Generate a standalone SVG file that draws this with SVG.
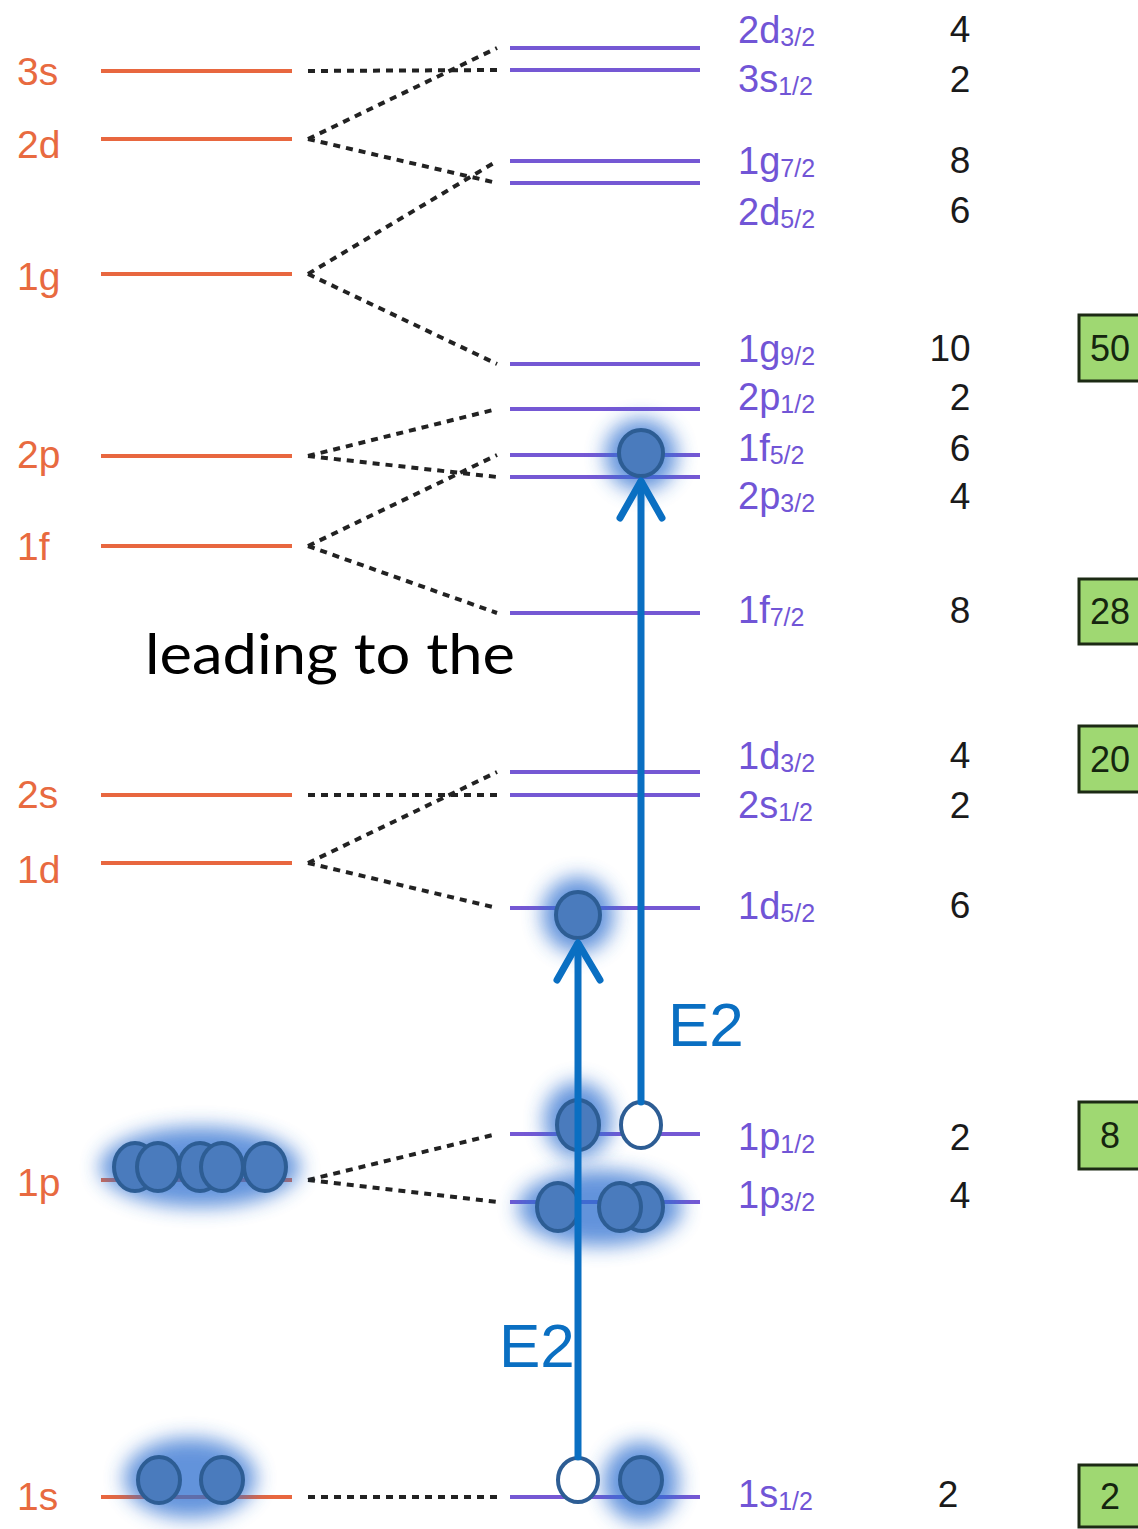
<svg xmlns="http://www.w3.org/2000/svg" width="1138" height="1529" viewBox="0 0 1138 1529">
<defs>
<style>
.ol{stroke:#e8673f;stroke-width:4;fill:none}
.pl{stroke:#7558d4;stroke-width:4;fill:none}
.ot{font-family:"Liberation Sans",Arial,sans-serif;font-size:39px;fill:#e86a40}
.pt{font-family:"Liberation Sans",Arial,sans-serif;font-size:38px;fill:#7155d6}
.sub{font-size:25px}
.nt{font-family:"Liberation Sans",Arial,sans-serif;font-size:37px;fill:#1a1a1a;text-anchor:middle}
.dot{stroke:#222;stroke-width:4;stroke-dasharray:7 6;fill:none}
.arr{stroke:#0a6fc2;stroke-width:7;fill:none;stroke-linecap:round;stroke-linejoin:round}
.e2{font-family:"Liberation Sans",Arial,sans-serif;font-size:62px;fill:#0a6fc2}
.nuc{fill:#4a7bbd;stroke:#2d5d94;stroke-width:4}
.hol{fill:#ffffff;stroke:#2d5d94;stroke-width:4}
.glow{fill:#2f6fd0;opacity:0.75;filter:url(#blur)}
.box{fill:#9fd872;stroke:#1c2a14;stroke-width:3}
.bt{font-family:"Liberation Sans",Arial,sans-serif;font-size:36px;fill:#15250f;text-anchor:middle}
</style>
<filter id="blur" x="-60%" y="-60%" width="220%" height="220%"><feGaussianBlur stdDeviation="10"/></filter>
</defs>

<g id="oscillator-levels">
<g id="o-3s"><text class="ot" x="17" y="85">3s</text><line class="ol" x1="101" y1="71" x2="292" y2="71"/></g>
<g id="o-2d"><text class="ot" x="17" y="158">2d</text><line class="ol" x1="101" y1="139" x2="292" y2="139"/></g>
<g id="o-1g"><text class="ot" x="17" y="290">1g</text><line class="ol" x1="101" y1="274" x2="292" y2="274"/></g>
<g id="o-2p"><text class="ot" x="17" y="468">2p</text><line class="ol" x1="101" y1="456" x2="292" y2="456"/></g>
<g id="o-1f"><text class="ot" x="17" y="560">1f</text><line class="ol" x1="101" y1="546" x2="292" y2="546"/></g>
<g id="o-2s"><text class="ot" x="17" y="808">2s</text><line class="ol" x1="101" y1="795" x2="292" y2="795"/></g>
<g id="o-1d"><text class="ot" x="17" y="883">1d</text><line class="ol" x1="101" y1="863" x2="292" y2="863"/></g>
<g id="o-1p"><text class="ot" x="17" y="1196">1p</text><line class="ol" x1="101" y1="1180" x2="292" y2="1180"/></g>
<g id="o-1s"><text class="ot" x="17" y="1510">1s</text><line class="ol" x1="101" y1="1497" x2="292" y2="1497"/></g>
</g>

<g id="connectors">
<line class="dot" x1="308" y1="71" x2="497" y2="70"/>
<line class="dot" x1="308" y1="139" x2="497" y2="48"/>
<line class="dot" x1="308" y1="139" x2="497" y2="183"/>
<line class="dot" x1="308" y1="274" x2="497" y2="161"/>
<line class="dot" x1="308" y1="274" x2="497" y2="364"/>
<line class="dot" x1="308" y1="456" x2="497" y2="409"/>
<line class="dot" x1="308" y1="456" x2="497" y2="477"/>
<line class="dot" x1="308" y1="546" x2="497" y2="455"/>
<line class="dot" x1="308" y1="546" x2="497" y2="613"/>
<line class="dot" x1="308" y1="795" x2="497" y2="795"/>
<line class="dot" x1="308" y1="863" x2="497" y2="772"/>
<line class="dot" x1="308" y1="863" x2="497" y2="908"/>
<line class="dot" x1="308" y1="1180" x2="497" y2="1134"/>
<line class="dot" x1="308" y1="1180" x2="497" y2="1202"/>
<line class="dot" x1="308" y1="1497" x2="497" y2="1497"/>
</g>

<g id="shell-levels">
<g id="s-2d32"><line class="pl" x1="510" y1="48" x2="700" y2="48"/><text class="pt" x="738" y="43">2d<tspan class="sub" dy="3">3/2</tspan></text><text class="nt" x="960" y="42">4</text></g>
<g id="s-3s12"><line class="pl" x1="510" y1="70" x2="700" y2="70"/><text class="pt" x="738" y="92">3s<tspan class="sub" dy="3">1/2</tspan></text><text class="nt" x="960" y="92">2</text></g>
<g id="s-1g72"><line class="pl" x1="510" y1="161" x2="700" y2="161"/><text class="pt" x="738" y="174">1g<tspan class="sub" dy="3">7/2</tspan></text><text class="nt" x="960" y="173">8</text></g>
<g id="s-2d52"><line class="pl" x1="510" y1="183" x2="700" y2="183"/><text class="pt" x="738" y="225">2d<tspan class="sub" dy="3">5/2</tspan></text><text class="nt" x="960" y="223">6</text></g>
<g id="s-1g92"><line class="pl" x1="510" y1="364" x2="700" y2="364"/><text class="pt" x="738" y="362">1g<tspan class="sub" dy="3">9/2</tspan></text><text class="nt" x="950" y="361">10</text></g>
<g id="s-2p12"><line class="pl" x1="510" y1="409" x2="700" y2="409"/><text class="pt" x="738" y="410">2p<tspan class="sub" dy="3">1/2</tspan></text><text class="nt" x="960" y="410">2</text></g>
<g id="s-1f52"><line class="pl" x1="510" y1="455" x2="700" y2="455"/><text class="pt" x="738" y="461">1f<tspan class="sub" dy="3">5/2</tspan></text><text class="nt" x="960" y="461">6</text></g>
<g id="s-2p32"><line class="pl" x1="510" y1="477" x2="700" y2="477"/><text class="pt" x="738" y="509">2p<tspan class="sub" dy="3">3/2</tspan></text><text class="nt" x="960" y="509">4</text></g>
<g id="s-1f72"><line class="pl" x1="510" y1="613" x2="700" y2="613"/><text class="pt" x="738" y="623">1f<tspan class="sub" dy="3">7/2</tspan></text><text class="nt" x="960" y="623">8</text></g>
<g id="s-1d32"><line class="pl" x1="510" y1="772" x2="700" y2="772"/><text class="pt" x="738" y="769">1d<tspan class="sub" dy="3">3/2</tspan></text><text class="nt" x="960" y="768">4</text></g>
<g id="s-2s12"><line class="pl" x1="510" y1="795" x2="700" y2="795"/><text class="pt" x="738" y="818">2s<tspan class="sub" dy="3">1/2</tspan></text><text class="nt" x="960" y="818">2</text></g>
<g id="s-1d52"><line class="pl" x1="510" y1="908" x2="700" y2="908"/><text class="pt" x="738" y="919">1d<tspan class="sub" dy="3">5/2</tspan></text><text class="nt" x="960" y="918">6</text></g>
<g id="s-1p12"><line class="pl" x1="510" y1="1134" x2="700" y2="1134"/><text class="pt" x="738" y="1150">1p<tspan class="sub" dy="3">1/2</tspan></text><text class="nt" x="960" y="1150">2</text></g>
<g id="s-1p32"><line class="pl" x1="510" y1="1202" x2="700" y2="1202"/><text class="pt" x="738" y="1208">1p<tspan class="sub" dy="3">3/2</tspan></text><text class="nt" x="960" y="1208">4</text></g>
<g id="s-1s12"><line class="pl" x1="510" y1="1497" x2="700" y2="1497"/><text class="pt" x="738" y="1507">1s<tspan class="sub" dy="3">1/2</tspan></text><text class="nt" x="948" y="1507">2</text></g>
</g>

<g id="magic-numbers">
<g id="m-50"><rect class="box" x="1079" y="315" width="64" height="66"/><text class="bt" x="1110" y="361">50</text></g>
<g id="m-28"><rect class="box" x="1079" y="579" width="64" height="65"/><text class="bt" x="1110" y="624">28</text></g>
<g id="m-20"><rect class="box" x="1079" y="726" width="64" height="66"/><text class="bt" x="1110" y="772">20</text></g>
<g id="m-8"><rect class="box" x="1079" y="1102" width="64" height="67"/><text class="bt" x="1110" y="1148">8</text></g>
<g id="m-2"><rect class="box" x="1079" y="1465" width="64" height="62"/><text class="bt" x="1110" y="1509">2</text></g>
</g>

<g id="caption"><text x="145" y="674" font-family="Lato,'Open Sans',sans-serif" font-size="56" fill="#000" textLength="370" lengthAdjust="spacingAndGlyphs">leading to the</text></g>

<g id="nucleons-glow">
<ellipse class="glow" cx="641" cy="455" rx="36" ry="36"/>
<ellipse class="glow" cx="578" cy="915" rx="36" ry="38"/>
<ellipse class="glow" cx="578" cy="1120" rx="34" ry="38"/>
<ellipse class="glow" cx="600" cy="1208" rx="82" ry="38"/>
<ellipse class="glow" cx="200" cy="1167" rx="100" ry="40"/>
<ellipse class="glow" cx="190" cy="1478" rx="66" ry="40"/>
<ellipse class="glow" cx="641" cy="1482" rx="38" ry="40"/>
</g>

<g id="nucleons">
<ellipse class="nuc" cx="641" cy="453" rx="22" ry="23"/>
<ellipse class="nuc" cx="578" cy="915" rx="22" ry="23"/>
<ellipse class="nuc" cx="578" cy="1125" rx="21" ry="25"/>
<ellipse class="hol" cx="641" cy="1125" rx="20" ry="23"/>
<ellipse class="nuc" cx="642" cy="1207" rx="21" ry="24"/>
<ellipse class="nuc" cx="620" cy="1207" rx="21" ry="24"/>
<ellipse class="nuc" cx="558" cy="1207" rx="21" ry="24"/>
<ellipse class="nuc" cx="135" cy="1167" rx="21" ry="24"/>
<ellipse class="nuc" cx="158" cy="1167" rx="21" ry="24"/>
<ellipse class="nuc" cx="200" cy="1167" rx="21" ry="24"/>
<ellipse class="nuc" cx="222" cy="1167" rx="21" ry="24"/>
<ellipse class="nuc" cx="265" cy="1167" rx="21" ry="24"/>
<ellipse class="nuc" cx="159" cy="1480" rx="21" ry="23"/>
<ellipse class="nuc" cx="222" cy="1480" rx="21" ry="23"/>
<ellipse class="hol" cx="578" cy="1480" rx="20" ry="22"/>
<ellipse class="nuc" cx="641" cy="1480" rx="21" ry="23"/>
</g>

<g id="transitions">
<line class="arr" x1="578" y1="1457" x2="578" y2="944"/>
<polyline class="arr" points="557,980 578,943 600,980"/>
<line class="arr" x1="641" y1="1102" x2="641" y2="482"/>
<polyline class="arr" points="620,518 641,481 662,518"/>
<text class="e2" x="668" y="1046">E2</text>
<text class="e2" x="499" y="1367">E2</text>
</g>
</svg>
